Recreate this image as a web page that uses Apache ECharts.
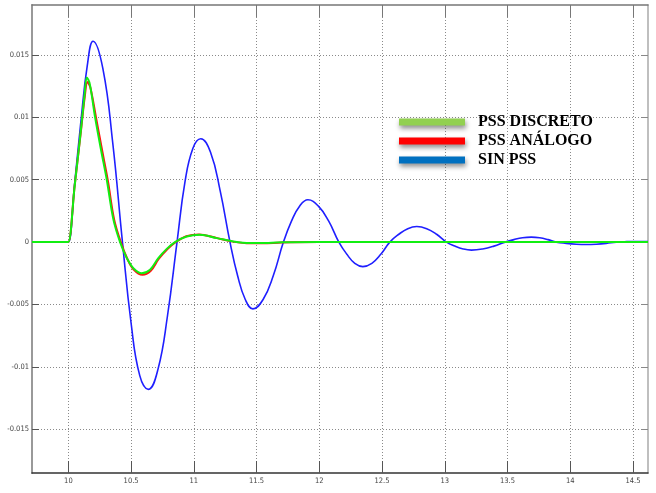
<!DOCTYPE html>
<html><head><meta charset="utf-8">
<script src="https://cdn.jsdelivr.net/npm/echarts@6/dist/echarts.min.js"></script>
<style>html,body{margin:0;padding:0;background:#fff}#c{width:656px;height:493px}</style>
</head><body><div id="c"></div>
<script>
const xTicks = [10, 10.5, 11, 11.5, 12, 12.5, 13, 13.5, 14, 14.5];
const xTickLabels = ['10', '10.5', '11', '11.5', '12', '12.5', '13', '13.5', '14', '14.5'];
const yTicks = [-0.015, -0.01, -0.005, 0, 0.005, 0.01, 0.015];
const yTickLabels = ['-0.015', '-0.01', '-0.005', '0', '0.005', '0.01', '0.015'];
const seriesNames = ['PSS DISCRETO', 'PSS ANÁLOGO', 'SIN PSS'];

const pssDiscreto = [[9.71,0],[9.99,0],[10.0,0],[10.05,0.0045],[10.10,0.0090],[10.13,0.0119],[10.147,0.0132],[10.17,0.0127],[10.213,0.0100],[10.26,0.0074],[10.306,0.0050],[10.359,0.0018],[10.412,0],[10.466,-0.00128],[10.518,-0.00209],[10.585,-0.00249],[10.651,-0.00222],[10.717,-0.00128],[10.784,-0.00054],[10.85,0],[10.943,0.00045],[11.049,0.00059],[11.182,0.00032],[11.315,0.00005],[11.447,-0.00008],[11.527,-0.00008],[11.7,-0.00002],[12.0,0],[14.62,0]];

const pssAnalogo = [[9.71,0],[9.99,0],[10.0,0],[10.05,0.0045],[10.10,0.0089],[10.13,0.0116],[10.152,0.01283],[10.175,0.0124],[10.22,0.0100],[10.27,0.0073],[10.315,0.0049],[10.365,0.0018],[10.418,0],[10.47,-0.00135],[10.52,-0.0022],[10.59,-0.00262],[10.655,-0.00232],[10.72,-0.00135],[10.79,-0.00055],[10.855,0],[10.94,0.00047],[11.04,0.00062],[11.18,0.00034],[11.31,0.00004],[11.45,-0.0001],[11.55,-0.0001],[11.7,-0.00003],[12.0,0],[14.62,0]];

const sinPss = [[9.71,0],[9.99,0],[10.0,0],[10.05,0.0047],[10.10,0.0097],[10.15,0.0141],[10.197,0.0161],[10.275,0.0139],[10.353,0.0080],[10.431,0],[10.50,-0.0065],[10.569,-0.0107],[10.638,-0.0118],[10.714,-0.0102],[10.79,-0.0059],[10.866,0],[10.929,0.0048],[10.992,0.0075],[11.055,0.00828],[11.133,0.0072],[11.21,0.0041],[11.288,0],[11.349,-0.0027],[11.41,-0.0046],[11.471,-0.00535],[11.552,-0.0046],[11.633,-0.0027],[11.714,0],[11.779,0.0017],[11.844,0.0029],[11.909,0.00339],[11.991,0.0029],[12.074,0.0017],[12.156,0],[12.22,-0.00098],[12.283,-0.0017],[12.347,-0.00196],[12.419,-0.0017],[12.49,-0.00098],[12.562,0],[12.634,0.00063],[12.705,0.00108],[12.777,0.00125],[12.856,0.00108],[12.935,0.00063],[13.014,0],[13.08,-0.00032],[13.147,-0.00055],[13.213,-0.00064],[13.302,-0.00055],[13.392,-0.00032],[13.481,0],[13.551,0.0002],[13.62,0.00035],[13.69,0.0004],[13.756,0.00035],[13.823,0.0002],[13.889,0],[13.969,-0.0001],[14.048,-0.000165],[14.128,-0.00019],[14.208,-0.000165],[14.287,-0.0001],[14.367,0],[14.45,0.00004],[14.53,0.00005],[14.62,0.00004]];

const labelFont = '"Liberation Sans Narrow", "DejaVu Sans Condensed", "Liberation Sans", sans-serif';
function fmt(ticks, labels) {
  return function (v) {
    const i = ticks.findIndex(t => Math.abs(t - v) < 1e-9);
    return i >= 0 ? labels[i] : '';
  };
}
const X_MIN = 9.71, X_MAX = 14.62, Y_MIN = -0.0185, Y_MAX = 0.019;

const chart = echarts.init(document.getElementById('c'), null, { renderer: 'canvas' });
chart.setOption({
  animation: false,
  backgroundColor: '#fff',
  grid: { left: 32, right: 8, top: 5, bottom: 20 },
  legend: {
    orient: 'vertical', left: 399, top: 112.5, padding: 0,
    itemWidth: 66, itemHeight: 7, itemGap: 0, icon: 'rect', selectedMode: false,
    data: [
      { name: seriesNames[0], itemStyle: { color: '#92d050' } },
      { name: seriesNames[1], itemStyle: { color: '#ff0000' } },
      { name: seriesNames[2], itemStyle: { color: '#0070c0' } }
    ],
    itemStyle: { shadowBlur: 5, shadowColor: 'rgba(0,0,0,0.45)', shadowOffsetX: 1, shadowOffsetY: 3 },
    textStyle: { fontFamily: '"Liberation Serif", "Times New Roman", serif', fontWeight: 'bold', fontSize: 16, color: '#000', lineHeight: 19, padding: [0, 0, 0, 8] }
  },
  xAxis: [
    {
      type: 'value', min: X_MIN, max: X_MAX, position: 'bottom',
      axisLine: { show: true, onZero: false, lineStyle: { color: '#333', width: 1.5 } },
      axisTick: { show: true, inside: true, length: 12, customValues: xTicks, lineStyle: { color: '#555' } },
      axisLabel: { customValues: xTicks, formatter: fmt(xTicks, xTickLabels), fontSize: 7.5, color: '#444', margin: 4, fontFamily: labelFont },
      splitLine: { show: true, lineStyle: { type: [1, 2], color: '#8a8a8a' } }
    },
    {
      type: 'value', min: X_MIN, max: X_MAX, position: 'top',
      axisLine: { show: true, onZero: false, lineStyle: { color: '#777', width: 1.5 } },
      axisTick: { show: true, inside: true, length: 12, customValues: xTicks, lineStyle: { color: '#777' } },
      axisLabel: { show: false }, splitLine: { show: false }
    }
  ],
  yAxis: [
    {
      type: 'value', min: Y_MIN, max: Y_MAX, position: 'left',
      axisLine: { show: true, onZero: false, lineStyle: { color: '#999', width: 2 } },
      axisTick: { show: true, inside: true, length: 7, customValues: yTicks, lineStyle: { color: '#555' } },
      axisLabel: { customValues: yTicks, formatter: fmt(yTicks, yTickLabels), fontSize: 7.5, color: '#444', margin: 3, fontFamily: labelFont },
      splitLine: { show: true, lineStyle: { type: [1, 2], color: '#8a8a8a' } }
    },
    {
      type: 'value', min: Y_MIN, max: Y_MAX, position: 'right',
      axisLine: { show: true, onZero: false, lineStyle: { color: '#aaa', width: 1.5 } },
      axisTick: { show: true, inside: true, length: 7, customValues: yTicks, lineStyle: { color: '#888' } },
      axisLabel: { show: false }, splitLine: { show: false }
    }
  ],
  series: [
    { name: seriesNames[2], type: 'line', data: sinPss, smooth: 0.45, showSymbol: false, symbol: 'none', lineStyle: { color: '#1f1fff', width: 1.6 }, itemStyle: { color: '#0070c0' } },
    { name: seriesNames[1], type: 'line', data: pssAnalogo, smooth: 0.35, showSymbol: false, symbol: 'none', lineStyle: { color: '#ff1111', width: 2 }, itemStyle: { color: '#ff0000' } },
    { name: seriesNames[0], type: 'line', data: pssDiscreto, smooth: 0.35, showSymbol: false, symbol: 'none', lineStyle: { color: '#11ee11', width: 2 }, itemStyle: { color: '#92d050' } }
  ]
});
</script>
</body></html>
